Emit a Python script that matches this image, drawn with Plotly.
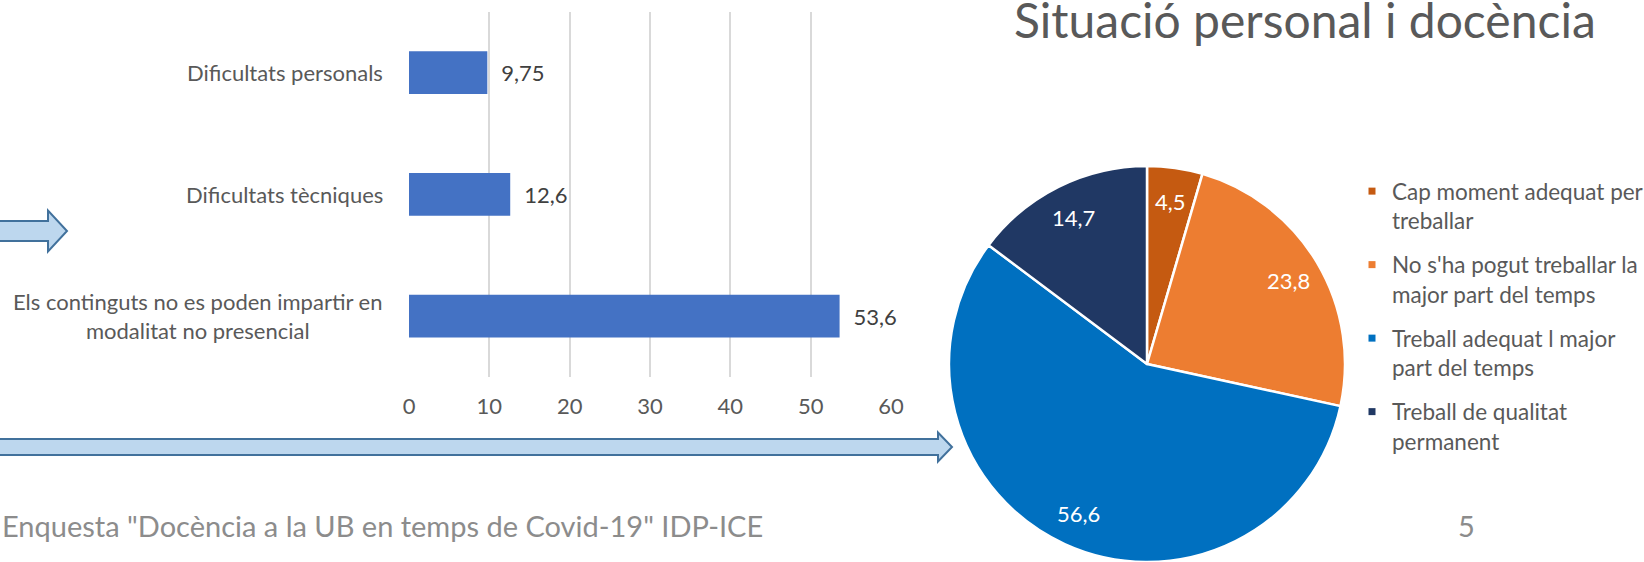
import math
import plotly.graph_objects as go

# ---------------- data ----------------
bar_categories = [
    "Dificultats personals",
    "Dificultats tècniques",
    "Els continguts no es poden impartir en<br>modalitat no presencial",
]
bar_values = [9.75, 12.6, 53.6]
x_ticks = [0, 10, 20, 30, 40, 50, 60]

pie_labels = [
    "Cap moment adequat per<br>treballar",
    "No s'ha pogut treballar la<br>major part del temps",
    "Treball adequat l major<br>part del temps",
    "Treball de qualitat<br>permanent",
]
pie_values = [4.5, 23.8, 56.6, 14.7]
pie_colors = ["#C55A11", "#ED7D31", "#0070C0", "#203864"]

pie_title = "Situació personal i docència"
footer_text = 'Enquesta "Docència a la UB en temps de Covid-19" IDP-ICE'
page_number = "5"

# ---------------- helpers ----------------
W, H = 1644, 562
FONT = "Lato"


def px(x):
    return x / W


def py(y):
    return 1 - y / H


def fmt(v):
    return f"{v:g}".replace(".", ",")


fig = go.Figure()

fig.add_trace(go.Bar(
    y=list(range(len(bar_categories))),
    x=bar_values,
    orientation="h",
    marker=dict(color="#4472C4", line=dict(width=0)),
    text=["\u2002" + fmt(v) for v in bar_values],
    textposition="outside",
    cliponaxis=False,
    textfont=dict(family=FONT, size=22, color="#404040"),
    showlegend=False,
    hoverinfo="skip",
))

# pie geometry (pixels)
PIE_X0, PIE_X1, PIE_Y0, PIE_Y1 = 949, 1345, 166, 562
pcx, pcy = (PIE_X0 + PIE_X1) / 2, (PIE_Y0 + PIE_Y1) / 2
pr = (PIE_X1 - PIE_X0) / 2

fig.add_trace(go.Pie(
    labels=pie_labels,
    values=pie_values,
    sort=False,
    direction="clockwise",
    rotation=0,
    marker=dict(colors=pie_colors, line=dict(color="white", width=2.5)),
    textinfo="none",
    domain=dict(x=[px(PIE_X0), px(PIE_X1)], y=[py(PIE_Y1), py(PIE_Y0)]),
    showlegend=False,
    hoverinfo="skip",
))

# legend entries (one per pie slice) so that the spacing can follow the original
for lab, col in zip(pie_labels, pie_colors):
    fig.add_trace(go.Scatter(
        x=[None], y=[None], mode="markers", name=lab, legendgroup=lab,
        marker=dict(symbol="square", size=7, color=col),
        showlegend=True, hoverinfo="skip",
    ))

annotations = []
for i, cat in enumerate(bar_categories):
    annotations.append(dict(
        x=px(385), xref="paper", y=i, yref="y",
        text=cat, showarrow=False, xanchor="right", yanchor="middle",
        align="center", font=dict(family=FONT, size=22, color="#595959"),
    ))

# pie value labels on slice bisectors
total = sum(pie_values)
cum = 0.0
for v in pie_values:
    mid = (cum + v / 2) / total * 2 * math.pi
    cum += v
    lx = pcx + 0.83 * pr * math.sin(mid)
    ly = pcy - 0.83 * pr * math.cos(mid)
    annotations.append(dict(
        x=px(lx), y=py(ly), xref="paper", yref="paper", text=fmt(v),
        showarrow=False, xanchor="center", yanchor="middle",
        font=dict(family=FONT, size=22, color="white"),
    ))

annotations.append(dict(
    x=px(1305), y=py(19), xref="paper", yref="paper", text=pie_title,
    showarrow=False, xanchor="center", yanchor="middle",
    font=dict(family=FONT, size=48, color="#595959"),
))
annotations.append(dict(
    x=px(0), y=py(525), xref="paper", yref="paper", text=footer_text,
    showarrow=False, xanchor="left", yanchor="middle",
    font=dict(family=FONT, size=29, color="#8C8C8C"),
))
annotations.append(dict(
    x=px(1466), y=py(525), xref="paper", yref="paper", text=page_number,
    showarrow=False, xanchor="center", yanchor="middle",
    font=dict(family=FONT, size=29, color="#8C8C8C"),
))


def arrow_path(x0, x_base, x_tip, y_mid, shaft_half, head_half):
    pts = [
        (x0, y_mid - shaft_half), (x_base, y_mid - shaft_half),
        (x_base, y_mid - head_half), (x_tip, y_mid),
        (x_base, y_mid + head_half), (x_base, y_mid + shaft_half),
        (x0, y_mid + shaft_half),
    ]
    return "M " + " L ".join(f"{px(a):.5f},{py(b):.5f}" for a, b in pts) + " Z"


shapes = [
    dict(type="path", xref="paper", yref="paper",
         path=arrow_path(-10, 48, 67, 231, 10, 20.5),
         fillcolor="#BDD7EE", line=dict(color="#41719C", width=2)),
    dict(type="path", xref="paper", yref="paper",
         path=arrow_path(-10, 938, 952, 447, 8, 14.5),
         fillcolor="#BDD7EE", line=dict(color="#41719C", width=2)),
]

fig.update_layout(
    width=W, height=H,
    margin=dict(l=0, r=0, t=0, b=0, autoexpand=False),
    paper_bgcolor="white", plot_bgcolor="white",
    font=dict(family=FONT, color="#595959"),
    bargap=0.65,
    xaxis=dict(
        domain=[px(409), px(891)], range=[0, 60],
        tickvals=x_ticks, ticktext=[str(t) for t in x_ticks],
        showgrid=True, gridcolor="#D9D9D9", gridwidth=1.5,
        zeroline=False, showline=False, ticks="",
        tickfont=dict(family=FONT, size=22, color="#595959"),
        ticklabelstandoff=14, fixedrange=True, automargin=False,
    ),
    yaxis=dict(
        domain=[py(377), py(11.7)], autorange="reversed",
        showticklabels=False, showgrid=False, zeroline=False,
        showline=False, ticks="", fixedrange=True, automargin=False,
    ),
    legend=dict(
        x=px(1352), y=py(170), xanchor="left", yanchor="top",
        font=dict(family=FONT, size=22.5, color="#595959"),
        valign="top", bgcolor="rgba(0,0,0,0)", tracegroupgap=12,
        traceorder="grouped",
    ),
    annotations=annotations,
    shapes=shapes,
)

fig.write_html("out.html", config={"displayModeBar": False},
               post_script="document.body.style.margin='0';")
